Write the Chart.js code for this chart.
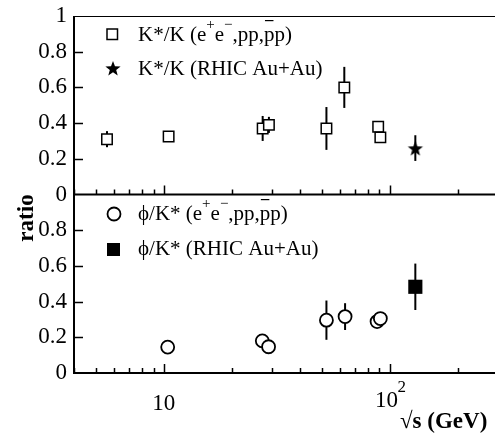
<!DOCTYPE html>
<html>
<head>
<meta charset="utf-8">
<script src="https://cdn.jsdelivr.net/npm/chart.js@4.4.0/dist/chart.umd.min.js"></script>
<style>
  html, body { margin: 0; padding: 0; background: #fff; }
  #wrap { width: 495px; height: 434px; }
</style>
</head>
<body>
<div id="wrap"><canvas id="chart"></canvas></div>
<script>
// K*/K in e+e-, pp, p-pbar
const kkEnergy = [5.6, 10.5, 27.4, 29.2, 52.5, 63, 89, 91];
const kkRatio  = [0.31, 0.325, 0.37, 0.39, 0.37, 0.60, 0.38, 0.32];
const kkError  = [0.045, 0.02, 0.07, 0.045, 0.12, 0.115, 0, 0];

// K*/K in RHIC Au+Au
const kkAuEnergy = [130];
const kkAuRatio  = [0.26];
const kkAuError  = [0.072];

// phi/K* in e+e-, pp, p-pbar
const phiEnergy = [10.4, 27.3, 29.1, 52.5, 63.5, 88, 91];
const phiRatio  = [0.145, 0.18, 0.147, 0.296, 0.316, 0.288, 0.305];
const phiError  = [0, 0, 0, 0.11, 0.075, 0, 0];

// phi/K* in RHIC Au+Au
const phiAuEnergy = [130];
const phiAuRatio  = [0.483];
const phiAuError  = [0.13];

const yTickValues = [0, 0.2, 0.4, 0.6, 0.8, 1];
const xLabelValues = [10, 100];

const SERIF = '"Liberation Serif", "DejaVu Serif", serif';

function points(xs, ys) {
  return xs.map((x, i) => ({ x, y: ys[i] }));
}

// filled five point star used as a point style
function makeStar(r) {
  const c = document.createElement('canvas');
  const s = Math.ceil(r * 2 + 2);
  c.width = s; c.height = s;
  const g = c.getContext('2d');
  g.fillStyle = '#000';
  g.beginPath();
  for (let i = 0; i < 10; i++) {
    const rr = i % 2 ? r * 0.42 : r;
    const a = -Math.PI / 2 + i * Math.PI / 5;
    const px = s / 2 + rr * Math.cos(a), py = s / 2 + 1 + rr * Math.sin(a);
    i ? g.lineTo(px, py) : g.moveTo(px, py);
  }
  g.closePath();
  g.fill();
  return c;
}
const starStyle = makeStar(8);

// text runs: plain, 'sup' (raised small) or 'bar' (overlined)
function drawRuns(ctx, x, y, runs, size) {
  ctx.textAlign = 'left';
  ctx.textBaseline = 'alphabetic';
  for (const [t, kind] of runs) {
    ctx.font = (kind === 'sup' ? Math.round(size * 0.7) : size) + 'px ' + SERIF;
    const w = ctx.measureText(t).width;
    ctx.fillText(t, x, kind === 'sup' ? y - size * 0.55 : y);
    if (kind === 'bar') ctx.fillRect(x + 1, y - size * 1.0, w - 2, 1.2);
    x += w;
  }
}

// keep the plot box fixed: no extra room for the end labels
function fixY(s) {
  s.width = 74;
  s.paddingTop = 0;
  s.paddingBottom = 0;
}

const decor = {
  id: 'decor',
  beforeDatasetsDraw(chart) {
    const ctx = chart.ctx;
    const xs = chart.scales.x;
    ctx.save();
    ctx.strokeStyle = '#000';
    ctx.lineWidth = 2;
    chart.data.datasets.forEach(ds => {
      if (!ds.errors) return;
      const ys = chart.scales[ds.yAxisID];
      ds.data.forEach((p, j) => {
        const e = ds.errors[j];
        if (!e) return;
        const px = xs.getPixelForValue(p.x);
        ctx.beginPath();
        ctx.moveTo(px, ys.getPixelForValue(p.y - e));
        ctx.lineTo(px, ys.getPixelForValue(p.y + e));
        ctx.stroke();
      });
    });
    ctx.restore();
  },
  afterDraw(chart) {
    const ctx = chart.ctx;
    const area = chart.chartArea;
    const xs = chart.scales.x;
    const top = chart.scales.yTop, bot = chart.scales.yBot;
    const mid = top.getPixelForValue(0);
    const base = bot.getPixelForValue(0);
    const right = chart.width;
    ctx.save();
    ctx.strokeStyle = '#000';
    ctx.fillStyle = '#000';

    // frame
    ctx.lineWidth = 1;
    ctx.beginPath();
    ctx.moveTo(area.left, area.top + 0.5);
    ctx.lineTo(right, area.top + 0.5);
    ctx.stroke();
    ctx.lineWidth = 2;
    ctx.beginPath();
    ctx.moveTo(area.left, area.top);
    ctx.lineTo(area.left, base + 1);
    ctx.moveTo(area.left, mid);
    ctx.lineTo(right, mid);
    ctx.moveTo(area.left - 1, base);
    ctx.lineTo(right, base);
    ctx.stroke();

    // y ticks pointing in
    ctx.lineWidth = 1.5;
    ctx.beginPath();
    [top, bot].forEach(s => {
      yTickValues.slice(1, -1).forEach(v => {
        const py = Math.round(s.getPixelForValue(v)) + 0.5;
        ctx.moveTo(area.left, py);
        ctx.lineTo(area.left + 9, py);
      });
    });
    ctx.stroke();

    // log x ticks on both panel bottoms
    ctx.beginPath();
    [mid, base].forEach(yb => {
      for (let d = 1; d <= 100; d *= 10) {
        for (let m = 1; m <= 9; m++) {
          const v = m * d;
          if (v < xs.min || v > xs.max) continue;
          const px = Math.round(xs.getPixelForValue(v)) + 0.5;
          ctx.moveTo(px, yb);
          ctx.lineTo(px, yb - (m === 1 ? 9 : 5));
        }
      }
    });
    ctx.stroke();

    // x tick labels
    ctx.textBaseline = 'alphabetic';
    ctx.font = '23px ' + SERIF;
    ctx.textAlign = 'center';
    ctx.fillText('10', xs.getPixelForValue(xLabelValues[0]), base + 37);
    ctx.fillText('10', xs.getPixelForValue(xLabelValues[1]) - 3, base + 34);
    ctx.textAlign = 'left';
    ctx.font = '17px ' + SERIF;
    ctx.fillText('2', xs.getPixelForValue(xLabelValues[1]) + 8, base + 19);

    // axis titles
    ctx.font = 'bold 23px ' + SERIF;
    ctx.fillText('\u221As (GeV)', 400, base + 55);
    ctx.save();
    ctx.translate(33, 218);
    ctx.rotate(-Math.PI / 2);
    ctx.textAlign = 'center';
    ctx.font = 'bold 23px ' + SERIF;
    ctx.fillText('ratio', 0, 0);
    ctx.restore();

    // legends
    ctx.lineWidth = 1.5;
    ctx.strokeRect(107, 29, 10.5, 10.5);
    ctx.drawImage(starStyle, 113 - starStyle.width / 2, 68 - starStyle.height / 2);
    ctx.lineWidth = 1.8;
    ctx.beginPath();
    ctx.arc(114, 214, 6.5, 0, Math.PI * 2);
    ctx.stroke();
    ctx.fillRect(107, 243, 13, 13);

    drawRuns(ctx, 138, 41, [['K*/K (e'], ['+', 'sup'], ['e'], ['\u2212', 'sup'], [',pp,'], ['p', 'bar'], ['p)']], 21);
    drawRuns(ctx, 138, 75, [['K*/K (RHIC Au+Au)']], 21);
    drawRuns(ctx, 138, 220, [['\u03D5/K* (e'], ['+', 'sup'], ['e'], ['\u2212', 'sup'], [',pp,'], ['p', 'bar'], ['p)']], 21);
    drawRuns(ctx, 138, 255, [['\u03D5/K* (RHIC Au+Au)']], 21);
    ctx.restore();
  }
};

const tickFont = { family: SERIF, size: 23 };

new Chart(document.getElementById('chart'), {
  type: 'scatter',
  data: {
    datasets: [
      {
        label: 'K*/K (e+e-,pp,ppbar)',
        data: points(kkEnergy, kkRatio),
        errors: kkError,
        yAxisID: 'yTop',
        pointStyle: 'rect',
        pointRadius: 7.4,
        pointBackgroundColor: '#fff',
        pointBorderColor: '#000',
        pointBorderWidth: 1.5,
      },
      {
        label: 'K*/K (RHIC Au+Au)',
        data: points(kkAuEnergy, kkAuRatio),
        errors: kkAuError,
        yAxisID: 'yTop',
        pointStyle: starStyle,
        pointRadius: 8,
      },
      {
        label: 'phi/K* (e+e-,pp,ppbar)',
        data: points(phiEnergy, phiRatio),
        errors: phiError,
        yAxisID: 'yBot',
        pointStyle: 'circle',
        pointRadius: 6.5,
        pointBackgroundColor: '#fff',
        pointBorderColor: '#000',
        pointBorderWidth: 1.8,
      },
      {
        label: 'phi/K* (RHIC Au+Au)',
        data: points(phiAuEnergy, phiAuRatio),
        errors: phiAuError,
        yAxisID: 'yBot',
        pointStyle: 'rect',
        pointRadius: 10,
        pointBackgroundColor: '#000',
        pointBorderColor: '#000',
        pointBorderWidth: 0,
      },
    ],
  },
  options: {
    responsive: true,
    maintainAspectRatio: false,
    animation: false,
    clip: false,
    layout: { autoPadding: false, padding: { left: 0, top: 16, right: 1, bottom: 61 } },
    plugins: {
      legend: { display: false },
      tooltip: { enabled: false },
    },
    scales: {
      x: {
        type: 'logarithmic',
        min: 4,
        max: 290,
        display: false,
      },
      // the first axis of a stack is placed at the bottom
      yBot: {
        position: 'left',
        stack: 'panels',
        stackWeight: 1,
        min: 0,
        max: 1,
        afterBuildTicks: s => { s.ticks = yTickValues.map(v => ({ value: v })); },
        afterFit: fixY,
        grid: { display: false, drawTicks: false },
        border: { display: false },
        ticks: { color: '#000', font: tickFont, padding: 7, autoSkip: false, callback: v => (v === 1 ? '' : String(v)) },
      },
      yTop: {
        position: 'left',
        stack: 'panels',
        stackWeight: 1,
        min: 0,
        max: 1,
        afterBuildTicks: s => { s.ticks = yTickValues.map(v => ({ value: v })); },
        afterFit: fixY,
        grid: { display: false, drawTicks: false },
        border: { display: false },
        ticks: { color: '#000', font: tickFont, padding: 7, autoSkip: false, callback: v => String(v) },
      },
    },
  },
  plugins: [decor],
});
</script>
</body>
</html>
